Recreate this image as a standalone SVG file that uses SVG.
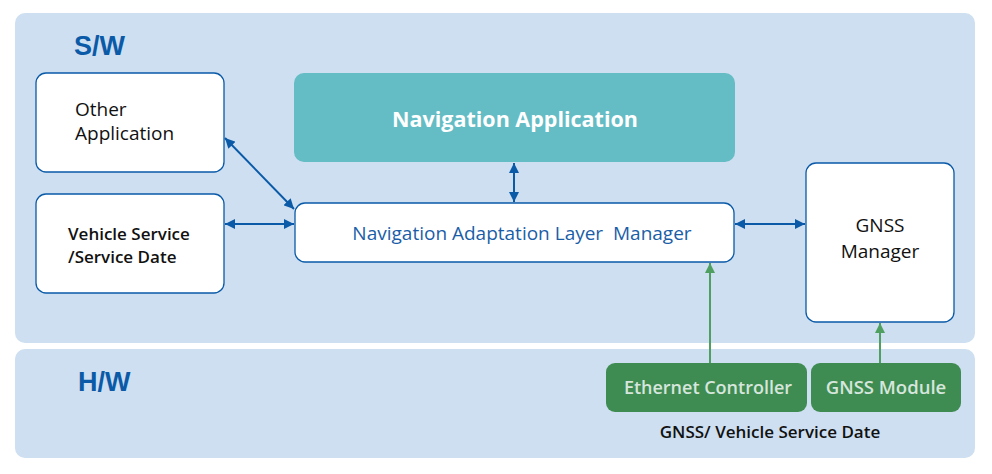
<svg xmlns="http://www.w3.org/2000/svg" width="992" height="474" viewBox="0 0 992 474">
<defs>
<style>
.panel{fill:#cddff0}
.box{fill:#ffffff;stroke:#0a5aa8;stroke-width:1.3}
.hw{fill:#3f8c52}
.t{font-family:"Open Sans","Liberation Sans",sans-serif;fill:#111}
.big{font-family:"Liberation Sans",sans-serif;font-weight:bold;fill:#0a5aa8;font-size:27px}
.con{stroke:#0a5aa8;stroke-width:2;fill:none}
.gcon{stroke:#4fa060;stroke-width:2;fill:none}
</style>
<marker id="ab" viewBox="0 0 10 10" refX="10" refY="5" markerWidth="5" markerHeight="5" orient="auto-start-reverse"><path d="M0,0L10,5L0,10z" fill="#0a5aa8"/></marker>
<marker id="ag" viewBox="0 0 10 10" refX="10" refY="5" markerWidth="5" markerHeight="5" orient="auto"><path d="M0,0L10,5L0,10z" fill="#4fa060"/></marker>
</defs>
<rect width="992" height="474" fill="#fff"/>
<g id="sw-panel"><rect class="panel" x="15" y="13" width="960" height="330" rx="10"/><text class="big" x="74" y="55">S/W</text></g>
<g id="hw-panel"><rect class="panel" x="15" y="349" width="960" height="109" rx="10"/><text class="big" x="78" y="391">H/W</text></g>
<g id="other-app"><rect class="box" x="36" y="73" width="188" height="99" rx="10"/><text class="t" x="75" y="116" font-size="19">Other</text><text class="t" x="75" y="140" font-size="19">Application</text></g>
<g id="vehicle-service"><rect class="box" x="36" y="194" width="188" height="99" rx="10"/><text class="t" x="68" y="240" font-size="17" font-weight="600">Vehicle Service</text><text class="t" x="68" y="263" font-size="17" font-weight="600">/Service Date</text></g>
<g id="nav-app"><rect x="294" y="73" width="441" height="89" rx="10" fill="#64bcc4"/><text x="515" y="127" text-anchor="middle" font-family="'Open Sans','Liberation Sans',sans-serif" font-weight="bold" font-size="21.5" fill="#fff">Navigation Application</text></g>
<g id="nalm"><rect class="box" x="295" y="203" width="439" height="59" rx="10"/><text x="522" y="240" text-anchor="middle" font-family="'Open Sans','Liberation Sans',sans-serif" font-size="19" fill="#1a5ea8" xml:space="preserve">Navigation Adaptation Layer  Manager</text></g>
<g id="gnss-manager"><rect class="box" x="806" y="163" width="148" height="159" rx="10"/><text class="t" x="880" y="232" text-anchor="middle" font-size="19">GNSS</text><text class="t" x="880" y="258" text-anchor="middle" font-size="19">Manager</text></g>
<g id="ethernet"><rect class="hw" x="606" y="363" width="201" height="49" rx="9"/><text x="708" y="394" text-anchor="middle" font-family="'Open Sans','Liberation Sans',sans-serif" font-size="18" font-weight="600" fill="#d6e6dc">Ethernet Controller</text></g>
<g id="gnss-module"><rect class="hw" x="811" y="363" width="150" height="49" rx="9"/><text x="886" y="394" text-anchor="middle" font-family="'Open Sans','Liberation Sans',sans-serif" font-size="18.5" font-weight="600" fill="#d6e6dc">GNSS Module</text></g>
<g id="hw-label"><text class="t" x="770" y="438" text-anchor="middle" font-size="17" font-weight="600">GNSS/ Vehicle Service Date</text></g>
<g id="connectors">
<line class="con" x1="225" y1="138" x2="294" y2="209" marker-start="url(#ab)" marker-end="url(#ab)"/>
<line class="con" x1="225" y1="224" x2="294" y2="224" marker-start="url(#ab)" marker-end="url(#ab)"/>
<line class="con" x1="514" y1="163" x2="514" y2="202" marker-start="url(#ab)" marker-end="url(#ab)"/>
<line class="con" x1="735" y1="224" x2="805" y2="224" marker-start="url(#ab)" marker-end="url(#ab)"/>
<line class="gcon" x1="710" y1="363" x2="710" y2="263" marker-end="url(#ag)"/>
<line class="gcon" x1="880" y1="363" x2="880" y2="323" marker-end="url(#ag)"/>
</g>
</svg>
